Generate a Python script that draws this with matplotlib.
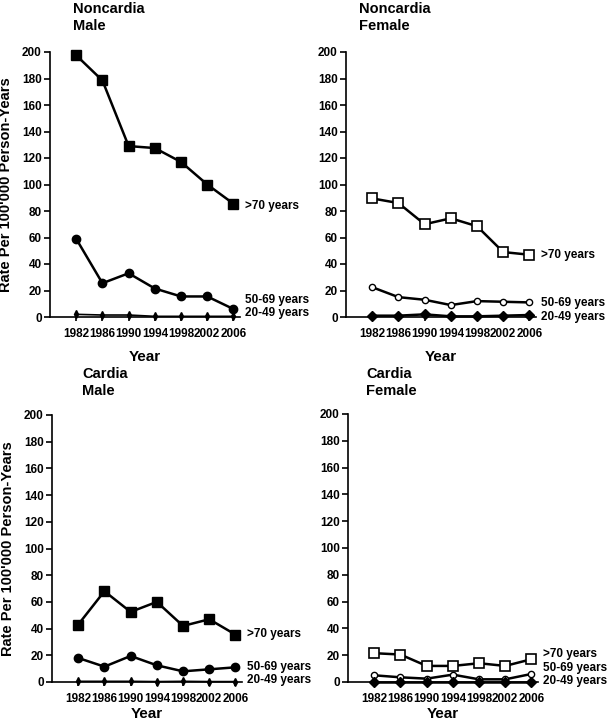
import matplotlib
matplotlib.use('Agg')
import matplotlib.pyplot as plt

plt.rcParams['font.family'] = ['Liberation Sans', 'DejaVu Sans']
plt.rcParams['font.weight'] = 'bold'

years = [1982, 1986, 1990, 1994, 1998, 2002, 2006]
age_labels = ['>70 years', '50-69 years', '20-49 years']

# noncardia, male
nc_male_70 = [197.5, 178.5, 129, 127.5, 117, 100, 85.5]
nc_male_50 = [59, 25.5, 33, 21.5, 15.5, 15.5, 6]
nc_male_20 = [2, 1.5, 1.5, 0.5, 0.5, 0.5, 0.5]

# noncardia, female
nc_female_70 = [89.5, 86, 70, 74.5, 68.5, 49, 47]
nc_female_50 = [22.5, 15, 13, 9, 12, 11.5, 11]
nc_female_20 = [1, 1, 2, 0.5, 0.5, 1, 1.5]

# cardia, male
c_male_70 = [43, 68, 52.5, 60, 42, 47, 35.5]
c_male_50 = [18, 11.5, 19.5, 12.5, 8, 9.5, 11]
c_male_20 = [0.5, 0.5, 0.5, 0.3, 0.5, 0.3, 0.3]

# cardia, female
c_female_70 = [21.5, 20.5, 12, 12, 14, 12, 17]
c_female_50 = [5, 3.5, 2.5, 5.5, 2, 2, 6]
c_female_20 = [0.2, 0.2, 0.2, 0.2, 0.2, 0.2, 0.2]

fig = plt.figure(figsize=(6.10, 7.22), dpi=100)
W, H = 610, 722


def px_axes(left, top, width, height):
    return fig.add_axes([left / W, 1 - (top + height) / H, width / W, height / H])


panels = [
    # title, rect(px), title pos(px), series, female?, label y, xlabel y (axes)
    ('Noncardia\nMale', (50, 52, 190, 265), (73, 2),
     (nc_male_70, nc_male_50, nc_male_20), False, (84, 13, 3), -0.125),
    ('Noncardia\nFemale', (346, 52, 190, 265), (359, 2),
     (nc_female_70, nc_female_50, nc_female_20), True, (47, 10.5, 0), -0.125),
    ('Cardia\nMale', (52, 415, 190, 267), (82, 367),
     (c_male_70, c_male_50, c_male_20), False, (36, 11, 1.5), -0.095),
    ('Cardia\nFemale', (348, 414, 190, 268), (366, 367),
     (c_female_70, c_female_50, c_female_20), True, (21, 10.5, 0.5), -0.095),
]

for title, rect, tpos, series, female, label_y, xlab_y in panels:
    ax = px_axes(*rect)
    s70, s50, s20 = series
    if female:
        ax.plot(years, s70, color='black', lw=1.8, marker='s', ms=7,
                mfc='white', mec='black', mew=1.2, clip_on=False, zorder=3)
        ax.plot(years, s50, color='black', lw=1.8, marker='o', ms=4.5,
                mfc='white', mec='black', mew=1.0, clip_on=False, zorder=3)
        ax.plot(years, s20, color='black', lw=1.8, marker='D', ms=5,
                clip_on=False, zorder=4)
    else:
        ax.plot(years, s70, color='black', lw=1.8, marker='s', ms=7,
                clip_on=False, zorder=3)
        ax.plot(years, s50, color='black', lw=1.8, marker='o', ms=6,
                clip_on=False, zorder=3)
        ax.plot(years, s20, color='black', lw=1.2, marker='d', ms=4,
                clip_on=False, zorder=3)

    ax.set_xlim(1978, 2007)
    ax.set_ylim(0, 200)
    ax.set_yticks(range(0, 201, 20))
    ax.set_xticks(years)
    for side in ['top', 'right']:
        ax.spines[side].set_visible(False)
    for side in ['left', 'bottom']:
        ax.spines[side].set_linewidth(1.2)
    ax.tick_params(axis='y', direction='out', length=4, width=1.2, labelsize=8.5, pad=2)
    ax.tick_params(axis='x', direction='out', length=3, width=1.2, labelsize=8.5, pad=5)
    for lab in ax.get_xticklabels() + ax.get_yticklabels():
        lab.set_fontweight('bold')
    ax.set_xlabel('Year', fontsize=11, fontweight='bold')
    ax.xaxis.set_label_coords(0.5, xlab_y)
    if not female:
        ax.set_ylabel("Rate Per 100'000 Person-Years", fontsize=10.5,
                      fontweight='bold', labelpad=6)

    for lab, yv in zip(age_labels, label_y):
        ax.text(2007.7, yv, lab, fontsize=8.5, fontweight='bold',
                va='center', ha='left', clip_on=False)

    fig.text(tpos[0] / W, 1 - tpos[1] / H, title, fontsize=10.5,
             fontweight='bold', va='top', ha='left', linespacing=1.3)

fig.savefig('out.png', dpi=100)
